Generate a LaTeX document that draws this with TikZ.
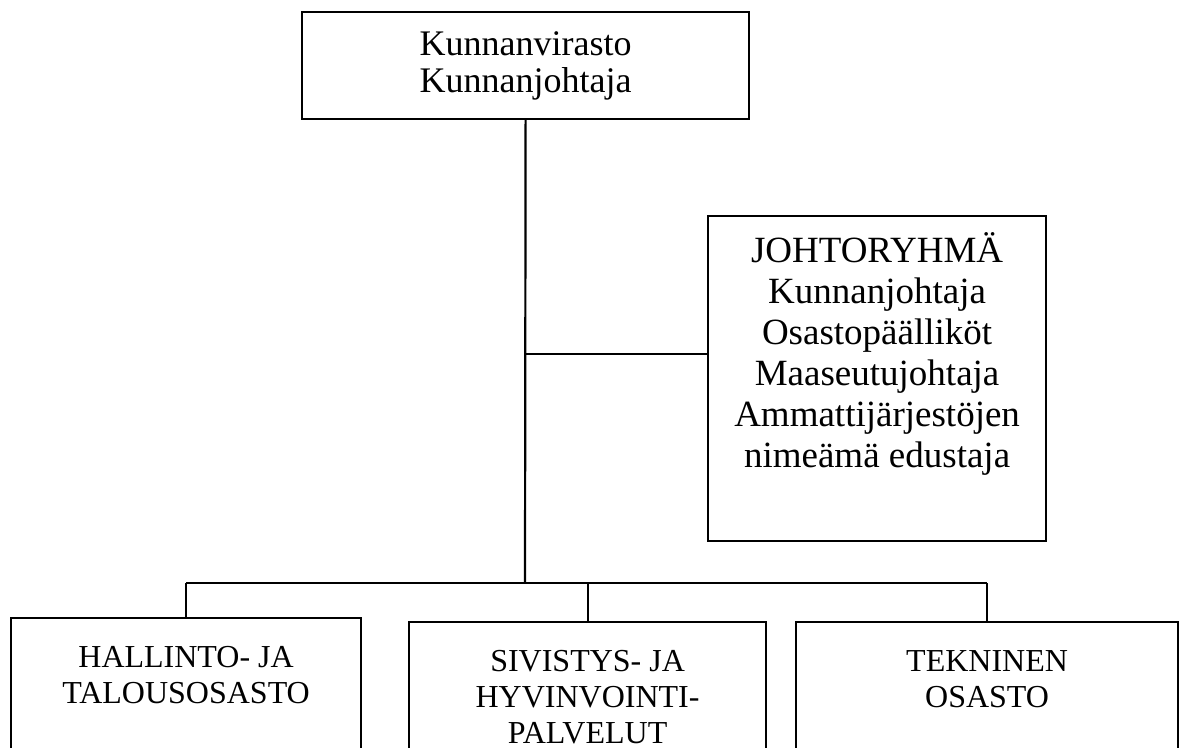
\documentclass[tikz,border=0pt]{standalone}
\usepackage{fontspec}
\setmainfont{Liberation Serif}
\usetikzlibrary{positioning}

\tikzset{
  laatikko/.style={draw, rectangle, inner sep=0pt, anchor=north west},
  isoteksti/.style={font=\fontsize{18}{18.5}\selectfont, align=center},
  osasto/.style={laatikko, minimum height=100pt,
    label={[font=\fontsize{16}{18}\selectfont, align=center, anchor=north, yshift=-11pt]north:#1}},
}

\begin{document}
\begin{tikzpicture}[x=0.5pt, y=-0.5pt, line width=1.1pt]
    \clip (0,0) rectangle (1184,748);

    % kunnanvirasto
    \node[laatikko, isoteksti, minimum width=223.5pt, minimum height=53.5pt] (virasto) at (301,11)
        {Kunnanvirasto\\Kunnanjohtaja};

    % johtoryhma
    \node[laatikko, minimum width=169pt, minimum height=162.5pt] (johto) at (707,215) {};
    \node[font=\fontsize{18.5}{20.5}\selectfont, align=center, anchor=north, yshift=-5pt] (johtoteksti) at (johto.north)
        {JOHTORYHMÄ\\Kunnanjohtaja\\Osastopäälliköt\\Maaseutujohtaja\\Ammattijärjestöjen\\nimeämä edustaja};

    % osastot
    \node[osasto={HALLINTO- JA\\TALOUSOSASTO}, minimum width=175pt] (hallinto) at (10,617) {};
    \node[osasto={SIVISTYS- JA\\HYVINVOINTI-\\PALVELUT}, minimum width=178.5pt] (sivistys) at (408,621) {};
    \node[osasto={TEKNINEN\\OSASTO}, minimum width=191pt] (tekninen) at (795,621) {};

    % viivat
    \coordinate (haara) at (525,354);
    \coordinate (vayla) at (525,583);
    \draw (virasto.south) -- (vayla);
    \draw (haara) -- (haara -| johto.west);
    \draw (hallinto.north |- vayla) -- (tekninen.north |- vayla);
    \foreach \o in {hallinto, sivistys, tekninen}
        \draw (\o.north |- vayla) -- (\o.north);
\end{tikzpicture}
\end{document}
